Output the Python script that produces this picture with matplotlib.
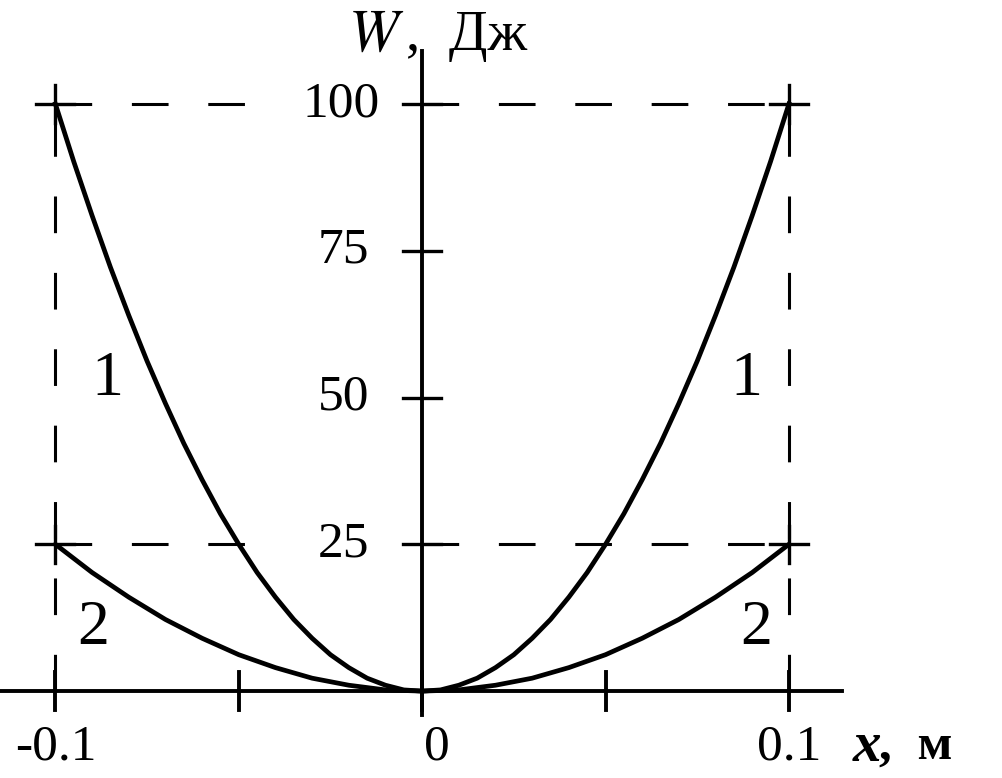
import matplotlib
matplotlib.use("Agg")
import matplotlib.pyplot as plt

# значения (шаг 0.005 м)
x_vals = [-0.100, -0.095, -0.090, -0.085, -0.080, -0.075, -0.070, -0.065, -0.060, -0.055,
          -0.050, -0.045, -0.040, -0.035, -0.030, -0.025, -0.020, -0.015, -0.010, -0.005,
          0.000,
          0.005, 0.010, 0.015, 0.020, 0.025, 0.030, 0.035, 0.040, 0.045, 0.050,
          0.055, 0.060, 0.065, 0.070, 0.075, 0.080, 0.085, 0.090, 0.095, 0.100]
w1_vals = [100, 90.2, 81, 72.2, 64, 56.2, 49, 42.2, 36, 30.2,
           25, 20.2, 16, 12.2, 9, 6.2, 4, 2.2, 1, 0.2,
           0,
           0.2, 1, 2.2, 4, 6.2, 9, 12.2, 16, 20.2, 25,
           30.2, 36, 42.2, 49, 56.2, 64, 72.2, 81, 90.2, 100]
w2_vals = [25, 22.6, 20.2, 18.1, 16, 14.1, 12.2, 10.6, 9, 7.6,
           6.2, 5.1, 4, 3.1, 2.2, 1.6, 1, 0.6, 0.2, 0.1,
           0,
           0.1, 0.2, 0.6, 1, 1.6, 2.2, 3.1, 4, 5.1, 6.2,
           7.6, 9, 10.6, 12.2, 14.1, 16, 18.1, 20.2, 22.6, 25]

x_ticks = [-0.1, -0.05, 0, 0.05, 0.1]
x_ticklabels = ["-0.1", "", "0", "", "0.1"]
y_ticks = [25, 50, 75, 100]
y_ticklabels = ["25", "50", "75", "100"]

FONT = "Liberation Serif"
FS = 37

fig = plt.figure(figsize=(10.02, 7.78), dpi=100)
ax = fig.add_axes([0, 0, 1, 1])
ax.set_xlim(-0.1151, 0.1581)
ax.set_ylim(-14.8, 117.7)
ax.axis("off")

# пунктир (с разрывом под подписи 100 и 25)
dash = dict(color="black", lw=2.2, dashes=(12, 13), zorder=1)
for yl in (100, 25):
    ax.plot([-0.1, -0.039], [yl, yl], **dash)
    ax.plot([0.0, 0.1], [yl, yl], **dash)
ax.plot([-0.1, -0.1], [0, 100], **dash)
ax.plot([0.1, 0.1], [0, 100], **dash)

# оси
ax.plot([-0.1151, 0.1145], [0, 0], color="black", lw=2.8, zorder=2)
ax.plot([0, 0], [-4.1, 109], color="black", lw=2.8, zorder=2)

# засечки
tx = 0.0052
ty = 3.2
for xt in x_ticks:
    ax.plot([xt, xt], [-ty, ty], color="black", lw=2.8, zorder=2)
for yt in y_ticks:
    ax.plot([-tx, tx], [yt, yt], color="black", lw=2.4, zorder=2)
for xc in (-0.1, 0.1):
    for yc in (25, 100):
        ax.plot([xc - tx, xc + tx], [yc, yc], color="black", lw=2.4, zorder=2)
        ax.plot([xc, xc], [yc - ty, yc + ty], color="black", lw=2.4, zorder=2)

# кривые
ax.plot(x_vals, w1_vals, color="black", lw=3.4, zorder=3)
ax.plot(x_vals, w2_vals, color="black", lw=3.4, zorder=3)

# подписи
for yt, lab in zip(y_ticks, y_ticklabels):
    xr = -0.0115 if yt == 100 else -0.0145
    ax.text(xr, yt, lab, ha="right", va="center", fontsize=FS, family=FONT,
            zorder=4)
for xt, lab in zip(x_ticks, x_ticklabels):
    if lab:
        xx = xt + 0.004 if xt == 0 else xt
        ax.text(xx, -9.5, lab, ha="center", va="center", fontsize=FS, family=FONT)

ax.text(-0.005, 111.5, "$W$", ha="right", va="center", fontsize=FS + 6,
        family=FONT, math_fontfamily="stix")
ax.text(-0.0045, 111.5, ",  Дж", ha="left", va="center", fontsize=FS + 4,
        family=FONT)
ax.text(0.1175, -9.5, "x", ha="left", va="center", fontsize=FS + 4,
        family=FONT, style="italic", fontweight="bold")
ax.text(0.1245, -9.5, ",  м", ha="left", va="center", fontsize=FS,
        family=FONT, fontweight="bold")

FL = 46
ax.text(-0.0858, 53, "1", ha="center", va="center", fontsize=FL, family=FONT)
ax.text(0.0885, 53, "1", ha="center", va="center", fontsize=FL, family=FONT)
ax.text(-0.0898, 10.5, "2", ha="center", va="center", fontsize=FL, family=FONT)
ax.text(0.0910, 10.5, "2", ha="center", va="center", fontsize=FL, family=FONT)

fig.savefig("out.png", dpi=100, facecolor="white")
